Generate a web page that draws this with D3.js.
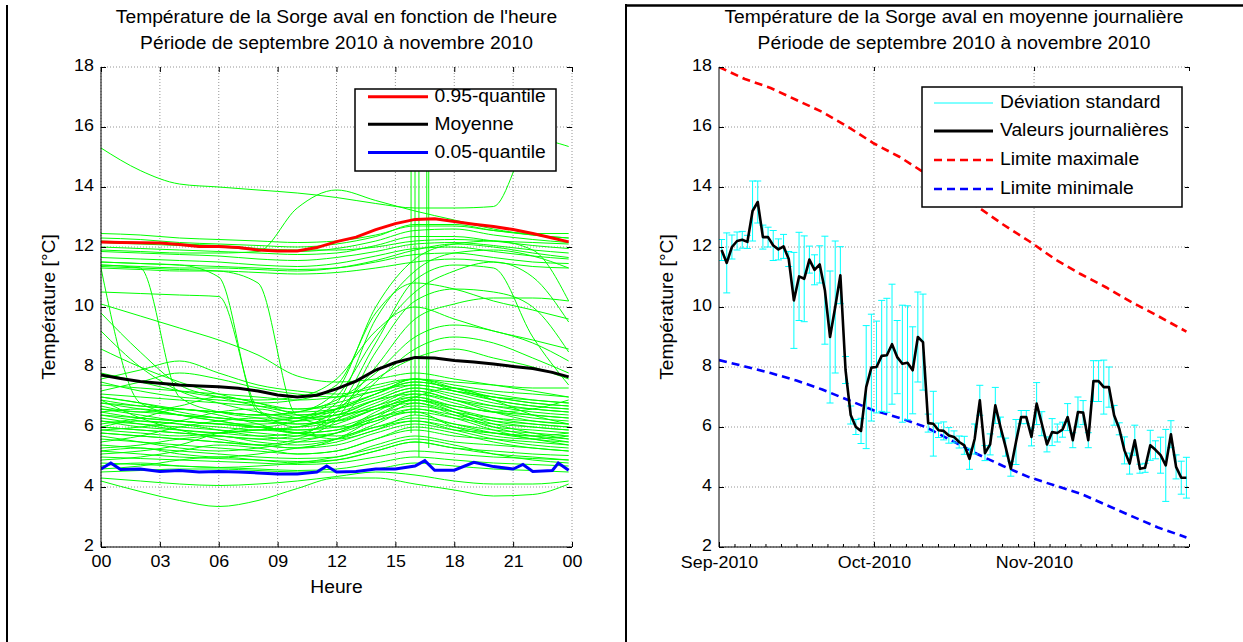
<!DOCTYPE html>
<html><head><meta charset="utf-8">
<script src="https://cdn.jsdelivr.net/npm/d3@7"></script>
<style>
body{margin:0;background:#fff}
svg{display:block}
text{font-family:"Liberation Sans",Arial,Helvetica,sans-serif;fill:#000}
</style>
</head><body>
<svg id="c" width="1243" height="642"></svg>
<script>
// ---------------- DATA ----------------
const hourTicks = [0,3,6,9,12,15,18,21,24];
const hourTickLabels = ["00","03","06","09","12","15","18","21","00"];
const tempTicks = [2,4,6,8,10,12,14,16,18];

const leftTitle = ["Température de la Sorge aval en fonction de l'heure","Période de septembre 2010 à novembre 2010"];
const rightTitle = ["Température de la Sorge aval en moyenne journalière","Période de septembre 2010 à novembre 2010"];
const yLabel = "Température [°C]";
const xLabelLeft = "Heure";
const leftLegendLabels = ["0.95-quantile","Moyenne","0.05-quantile"];
const rightLegendLabels = ["Déviation standard","Valeurs journalières","Limite maximale","Limite minimale"];

// hourly profiles of individual days (green)
const greenHours = [0,2,4,6,8,10,12,14,16,18,20,22,23.83];
const greenCurves = [
 [12.45,12.4,12.3,12.25,12.2,12.15,12.2,12.4,12.7,12.7,12.55,12.45,12.45],
 [12.3,12.25,12.15,12.1,12.05,12.0,12.1,12.35,12.75,12.75,12.55,12.4,12.3],
 [12.15,12.1,12.05,12.0,11.9,11.85,11.95,12.2,12.55,12.6,12.4,12.25,12.15],
 [12.0,11.95,11.9,11.85,11.8,11.75,11.8,12.05,12.35,12.35,12.2,12.05,11.95],
 [11.85,11.8,11.75,11.7,11.6,11.55,11.65,11.85,12.1,12.15,12.05,11.9,11.8],
 [11.65,11.6,11.55,11.5,11.4,11.35,11.45,11.7,11.95,12.0,11.85,11.7,11.6],
 [11.5,11.45,11.4,11.35,11.3,11.25,11.3,11.5,11.75,11.8,11.65,11.5,11.45],
 [11.3,11.25,11.2,11.2,11.15,11.1,11.15,11.3,11.5,11.6,11.5,11.35,11.3],
 [12.2,12.15,12.1,12.05,11.95,11.9,11.9,12.0,12.2,12.25,12.2,12.15,12.1],
 [11.4,11.35,11.3,11.3,11.25,11.2,11.3,11.55,11.9,12.1,12.0,11.8,11.65],
 [15.3,14.55,14.1,14.0,13.9,13.8,13.65,13.45,13.3,13.3,13.35,15.6,15.35],
 [11.9,11.85,11.8,11.8,11.85,13.3,13.9,13.55,13.2,12.9,12.6,12.4,12.3],
 [11.3,6.8,6.4,6.2,6.0,5.9,6.1,6.6,6.9,6.6,6.3,6.1,6.0],
 [11.4,11.3,7.0,6.5,6.3,6.1,6.3,6.8,7.2,6.9,6.6,6.4,6.3],
 [11.5,11.45,11.4,11.0,6.5,6.2,6.4,6.9,7.3,7.0,6.7,6.5,6.4],
 [11.35,11.3,11.25,11.2,10.8,6.4,6.6,7.1,7.6,7.2,6.9,6.7,6.6],
 [10.5,10.45,10.4,10.35,6.6,6.0,6.2,6.7,7.0,6.7,6.5,6.3,6.2],
 [7.0,6.8,6.6,6.5,6.4,6.5,7.2,10.0,11.6,12.1,12.2,11.9,10.2],
 [6.6,6.4,6.2,6.1,6.0,6.2,6.8,9.6,11.2,11.8,11.9,11.7,11.3],
 [6.8,6.6,6.4,6.3,6.2,6.3,7.0,9.0,10.5,11.2,11.5,11.0,9.5],
 [6.2,6.0,5.9,5.8,5.7,5.8,6.3,8.5,10.2,10.6,10.5,10.0,8.5],
 [7.5,7.2,7.0,6.9,6.8,6.9,7.4,9.8,10.8,10.6,10.2,9.9,9.6],
 [6.0,5.9,5.8,5.7,5.6,5.7,6.5,8.0,9.6,10.1,10.3,10.3,10.2],
 [6.4,6.2,6.1,6.0,5.9,6.0,6.6,8.8,10.9,11.4,11.3,9.0,7.4],
 [7.8,7.5,7.2,7.0,6.9,7.0,7.6,9.2,10.0,9.6,9.2,8.9,8.6],
 [6.9,6.7,6.6,6.5,6.4,6.5,6.9,7.8,9.0,9.4,9.2,8.8,8.2],
 [5.8,5.7,5.6,5.5,5.4,5.6,6.2,7.5,8.6,9.0,8.8,8.3,7.8],
 [6.5,6.3,6.2,6.1,6.1,6.2,6.6,7.6,8.3,8.6,8.3,8.0,7.6],
 [9.8,8.5,7.4,7.0,6.7,6.5,6.6,7.0,7.4,7.2,7.0,6.8,6.7],
 [9.2,8.0,7.2,6.8,6.5,6.3,6.4,6.9,7.3,7.1,6.8,6.6,6.5],
 [8.6,8.0,7.5,7.1,6.8,6.6,6.7,7.1,7.5,7.3,7.1,6.9,6.8],
 [10.1,9.7,9.3,8.9,8.4,7.7,7.5,7.6,7.8,7.6,7.4,7.2,7.0],
 [7.4,7.3,7.2,7.1,7.0,6.9,7.0,7.4,7.6,7.5,7.4,7.3,7.3],
 [7.1,7.0,6.9,6.8,6.7,6.6,6.8,7.2,7.4,7.2,7.0,6.9,6.8],
 [6.8,6.7,6.6,6.5,6.4,6.4,6.5,6.9,7.1,6.9,6.7,6.6,6.5],
 [6.6,6.5,6.4,6.3,6.2,6.1,6.2,6.6,6.9,6.7,6.5,6.4,6.3],
 [6.4,6.3,6.2,6.1,6.0,5.9,6.0,6.4,6.7,6.5,6.3,6.2,6.1],
 [6.2,6.1,6.0,5.9,5.8,5.7,5.8,6.2,6.5,6.3,6.1,6.0,5.9],
 [6.0,5.9,5.8,5.7,5.6,5.5,5.6,6.0,6.3,6.1,5.9,5.8,5.7],
 [5.8,5.7,5.6,5.5,5.4,5.3,5.4,5.8,6.1,5.9,5.8,5.7,5.6],
 [5.6,5.5,5.4,5.3,5.2,5.1,5.2,5.6,5.9,5.7,5.6,5.5,5.4],
 [5.4,5.3,5.2,5.1,5.0,4.95,5.0,5.4,5.7,5.5,5.4,5.3,5.2],
 [5.2,5.1,5.0,4.95,4.9,4.85,4.9,5.2,5.5,5.3,5.2,5.1,5.05],
 [5.0,4.95,4.9,4.85,4.8,4.75,4.8,5.0,5.2,5.1,5.0,4.95,4.9],
 [4.8,4.75,4.7,4.65,4.6,4.55,4.6,4.8,5.0,4.9,4.8,4.75,4.7],
 [6.9,6.3,5.9,5.6,5.4,5.3,5.6,6.3,6.9,6.5,6.0,5.7,5.5],
 [5.5,5.7,6.0,6.2,6.3,6.3,6.4,6.6,6.8,6.5,6.1,5.8,5.6],
 [6.1,6.3,6.6,6.4,6.1,5.8,5.9,6.4,7.0,7.3,6.9,6.4,6.1],
 [5.9,6.0,6.2,6.5,6.6,6.3,6.0,6.2,6.8,6.4,6.0,5.9,5.8],
 [5.3,5.4,5.6,5.7,5.5,5.4,5.6,6.1,6.6,6.3,5.9,5.6,5.5],
 [6.7,6.5,6.7,7.0,6.8,6.4,6.2,6.6,7.1,6.8,6.5,6.6,6.9],
 [4.9,5.0,5.2,5.4,5.3,5.1,5.2,5.6,6.0,5.8,5.5,5.3,5.2],
 [5.7,5.5,5.3,5.2,5.3,5.5,5.8,6.3,6.5,6.0,5.7,5.6,5.7],
 [6.3,6.1,5.9,5.8,5.9,6.0,6.3,6.7,7.2,6.9,6.5,6.2,6.1],
 [7.2,7.5,7.8,7.6,7.3,7.1,7.0,7.2,7.5,7.3,7.0,6.8,6.7],
 [7.6,7.9,8.2,7.8,7.4,7.2,7.1,7.3,7.6,7.4,7.2,7.1,7.0],
 [5.1,5.2,5.4,5.8,6.0,5.8,5.6,5.9,6.4,6.1,5.8,5.6,5.4],
 [4.6,4.7,4.9,5.0,4.9,4.8,4.9,5.2,5.5,5.3,5.1,5.0,4.9],
 [4.5,4.55,4.6,4.6,4.55,4.5,4.5,4.6,4.8,4.7,4.6,4.55,4.5],
 [5.9,5.8,5.7,5.8,5.9,5.8,5.7,6.0,6.2,6.0,5.8,5.7,5.8],
 [6.5,6.6,6.4,6.2,6.0,5.8,5.9,6.3,6.6,6.4,6.2,6.1,6.0],
 [5.2,5.3,5.1,5.0,5.1,5.3,5.5,5.9,6.2,5.9,5.6,5.4,5.3],
 [7.0,6.8,6.5,6.3,6.2,6.3,6.6,7.1,7.6,7.3,6.9,6.7,6.6],
 [4.7,4.8,4.7,4.65,4.7,4.8,5.0,5.3,5.6,5.4,5.1,4.9,4.8],
 [6.0,6.2,6.1,5.9,5.7,5.6,5.8,6.5,7.0,6.6,6.2,6.0,5.9],
 [4.2,3.85,3.55,3.35,3.55,3.95,4.3,4.3,4.1,3.9,3.7,3.75,4.1],
 [4.3,4.2,4.1,4.05,4.1,4.2,4.35,4.5,4.4,4.2,4.1,4.1,4.2]
];
// short spikes of individual days around 16h
const spikeHours = [15.8,16.0,16.2,16.6,16.7];
const spikeLow   = [5.8,6.4,5.0,6.8,5.3];
const spikeHigh  = [16.5,16.0,15.2,16.8,16.3];

// statistics over all days
const statHours = [0,1,2,3,4,5,6,7,8,9,10,11,12,13,14,15,16,17,18,19,20,21,22,23,23.83];
const q95Values = [12.17,12.15,12.14,12.13,12.08,12.02,12.02,11.98,11.9,11.87,11.87,11.98,12.18,12.33,12.58,12.78,12.92,12.94,12.85,12.76,12.68,12.58,12.45,12.3,12.17];
const meanValues = [7.73,7.62,7.52,7.46,7.4,7.37,7.34,7.29,7.2,7.07,7.0,7.06,7.27,7.53,7.9,8.15,8.32,8.3,8.22,8.17,8.1,8.02,7.95,7.82,7.67];
const q05Hours = [0,0.5,1,2,3,4,5,6,7,8,9,10,11,11.5,12,13,14,15,16,16.5,17,18,19,20,21,21.5,22,23,23.3,23.83];
const q05Values = [4.6,4.8,4.58,4.6,4.52,4.55,4.5,4.52,4.5,4.47,4.43,4.43,4.5,4.7,4.5,4.52,4.6,4.6,4.7,4.88,4.56,4.56,4.82,4.68,4.6,4.75,4.52,4.55,4.8,4.56];

// daily means from 1 Sep 2010 (one per day)
const dailyValues = [11.9,11.47,12.0,12.2,12.24,12.17,13.2,13.5,12.33,12.33,12.05,11.92,12.02,11.6,10.22,11.02,10.94,11.58,11.24,11.42,
 10.56,9.0,10.0,11.06,7.9,6.4,6.0,5.87,7.33,7.98,8.0,8.37,8.39,8.76,8.33,8.11,8.14,7.89,9.0,8.83,
 6.13,6.11,5.89,5.87,5.72,5.67,5.5,5.39,4.94,5.6,6.89,5.13,5.42,6.72,6.0,5.33,4.61,5.5,6.33,6.33,
 5.67,6.78,6.11,5.42,5.83,5.8,5.91,6.33,5.56,6.5,6.48,5.56,7.53,7.53,7.33,7.33,6.39,5.94,5.22,4.78,
 5.56,4.61,4.64,5.39,5.24,5.06,4.72,5.76,4.67,4.31,4.31];
const dailyStd = [0.35,1.0,0.4,0.3,0.28,0.22,1.0,0.7,0.4,0.33,0.5,0.35,0.4,0.25,1.6,1.47,1.43,0.45,0.5,0.62,
 1.8,2.2,2.2,0.95,0.45,0.3,0.25,0.42,2.05,1.78,1.53,1.85,1.9,2.0,1.22,1.95,1.9,1.45,1.5,1.6,
 0.3,1.08,0.24,0.3,0.26,0.2,0.2,0.3,0.35,0.5,0.5,0.25,0.35,0.6,0.33,0.3,0.25,0.75,0.22,0.22,
 0.3,0.7,0.4,0.25,0.45,0.3,0.25,0.45,0.25,0.5,0.4,0.25,0.68,0.68,0.9,0.67,0.33,0.2,0.45,0.35,
 0.5,0.15,0.15,0.5,0.3,0.6,1.2,0.45,0.4,0.55,0.68];

// limits (days after 1 Sep 2010)
const limitDays = [0,5,10,15,20,25,30,35,40,45,50,55,60,65,70,75,80,85,90.5];
const limitMax = [18.0,17.6,17.3,16.9,16.5,16.0,15.45,15.0,14.45,13.9,13.35,12.75,12.2,11.6,11.1,10.65,10.15,9.7,9.18];
const limitMin = [8.23,8.02,7.8,7.55,7.25,6.9,6.55,6.3,6.0,5.55,5.1,4.7,4.33,4.05,3.78,3.4,3.02,2.65,2.32];

const monthTickLabels = ["Sep-2010","Oct-2010","Nov-2010"];

// ---------------- LAYOUT ----------------
const L = {x0:101, x1:572, y0:67, y1:547};
const R = {x0:719, x1:1189, y0:67, y1:547};
const FONT = 17.5, TICKFONT = 17;
const GREEN = "#00ff00", RED = "#ff0000", BLUE = "#0000ff", CYAN = "#00ffff";
const day0 = Date.UTC(2010,8,1);
const dayDate = d => new Date(day0 + d*86400000);
const monthDates = [new Date(Date.UTC(2010,8,1)), new Date(Date.UTC(2010,9,1)), new Date(Date.UTC(2010,10,1)), new Date(Date.UTC(2010,11,1))];

const svg = d3.select("#c");

function stretch(sel, k){
  sel.each(function(){
    const w = this.getComputedTextLength();
    this.setAttribute("textLength", (w*k).toFixed(1));
    this.setAttribute("lengthAdjust","spacingAndGlyphs");
  });
}

// page frame (table borders)
svg.append("line").attr("x1",7).attr("x2",7).attr("y1",5).attr("y2",642).attr("stroke","#000").attr("stroke-width",2);
svg.append("line").attr("x1",626).attr("x2",626).attr("y1",4).attr("y2",642).attr("stroke","#000").attr("stroke-width",2);
svg.append("line").attr("x1",625).attr("x2",1243).attr("y1",5.5).attr("y2",5.5).attr("stroke","#000").attr("stroke-width",2.5);

const xL = d3.scaleLinear().domain([0,24]).range([L.x0,L.x1]);
const yL = d3.scaleLinear().domain([2,18]).range([L.y1,L.y0]);
const xR = d3.scaleUtc().domain([monthDates[0], monthDates[3]]).range([R.x0,R.x1]);
const yR = d3.scaleLinear().domain([2,18]).range([R.y1,R.y0]);

const defs = svg.append("defs");
defs.append("clipPath").attr("id","clipL").append("rect").attr("x",L.x0).attr("y",L.y0).attr("width",L.x1-L.x0).attr("height",L.y1-L.y0);
defs.append("clipPath").attr("id","clipR").append("rect").attr("x",R.x0).attr("y",R.y0).attr("width",R.x1-R.x0+1).attr("height",R.y1-R.y0);

function gridStyle(sel){ return sel.attr("stroke","#7a7a7a").attr("stroke-width",0.8).attr("stroke-dasharray","1,2").attr("fill","none"); }

function titles(lines, cx){
  const t = svg.append("g");
  t.selectAll("text").data(lines).join("text")
    .attr("x",cx).attr("y",(d,i)=>22.7 + i*25.8).attr("text-anchor","middle").attr("font-size",FONT).text(d=>d)
    .call(stretch,1.1);
}

function styleAxis(g, labels, dy){
  g.select(".domain").remove();
  g.selectAll(".tick line").attr("stroke","#000").attr("stroke-width",1);
  if(labels){
    const t = g.selectAll(".tick text").attr("font-size",TICKFONT).attr("fill","#000").attr("font-family",'"Liberation Sans",Arial,sans-serif');
    if(dy) t.attr("dy",dy);
    t.call(stretch,1.05);
  }
  else g.selectAll(".tick text").remove();
}

// ================= LEFT PANEL =================
titles(leftTitle, (L.x0+L.x1)/2);
gridStyle(svg.append("g").selectAll("line").data(hourTicks).join("line")
  .attr("x1",d=>xL(d)).attr("x2",d=>xL(d)).attr("y1",L.y0).attr("y2",L.y1));
gridStyle(svg.append("g").selectAll("line").data(tempTicks).join("line")
  .attr("x1",L.x0).attr("x2",L.x1).attr("y1",d=>yL(d)).attr("y2",d=>yL(d)));

const plotL = svg.append("g").attr("clip-path","url(#clipL)");
const lineL = d3.line().x(d=>xL(d[0])).y(d=>yL(d[1])).curve(d3.curveMonotoneX);
plotL.append("g").selectAll("path").data(greenCurves).join("path")
  .attr("d", c => lineL(c.map((v,i)=>[greenHours[i],v])))
  .attr("fill","none").attr("stroke",GREEN).attr("stroke-width",1);
plotL.append("g").selectAll("line").data(spikeHours).join("line")
  .attr("x1",d=>xL(d)).attr("x2",d=>xL(d)).attr("y1",(d,i)=>yL(spikeLow[i])).attr("y2",(d,i)=>yL(spikeHigh[i]))
  .attr("stroke",GREEN).attr("stroke-width",1);
const lineLin = d3.line().x(d=>xL(d[0])).y(d=>yL(d[1]));
plotL.append("path").attr("d", lineLin(q95Values.map((v,i)=>[statHours[i],v]))).attr("fill","none").attr("stroke",RED).attr("stroke-width",3);
plotL.append("path").attr("d", lineLin(meanValues.map((v,i)=>[statHours[i],v]))).attr("fill","none").attr("stroke","#000").attr("stroke-width",3);
plotL.append("path").attr("d", lineLin(q05Values.map((v,i)=>[q05Hours[i],v]))).attr("fill","none").attr("stroke",BLUE).attr("stroke-width",3);

svg.append("line").attr("x1",L.x0).attr("x2",L.x0).attr("y1",L.y0).attr("y2",L.y1).attr("stroke","#000");
svg.append("line").attr("x1",L.x0).attr("x2",L.x1).attr("y1",L.y1).attr("y2",L.y1).attr("stroke","#000");
svg.append("g").attr("transform",`translate(${L.x0},0)`).call(d3.axisLeft(yL).tickValues(tempTicks).tickSize(-5).tickSizeOuter(0).tickPadding(7)).call(styleAxis,true,"0.2em");
svg.append("g").attr("transform",`translate(${L.x1},0)`).call(d3.axisRight(yL).tickValues(tempTicks).tickSize(-5).tickSizeOuter(0)).call(styleAxis,false);
svg.append("g").attr("transform",`translate(0,${L.y1})`).call(d3.axisBottom(xL).tickValues(hourTicks).tickFormat((d,i)=>hourTickLabels[i]).tickSize(-5).tickSizeOuter(0).tickPadding(8)).call(styleAxis,true);
svg.append("g").attr("transform",`translate(0,${L.y0})`).call(d3.axisTop(xL).tickValues(hourTicks).tickSize(-5).tickSizeOuter(0)).call(styleAxis,false);

svg.append("text").attr("x",(L.x0+L.x1)/2).attr("y",593).attr("text-anchor","middle").attr("font-size",FONT).text(xLabelLeft).call(stretch,1.1);
svg.append("text").attr("transform",`translate(55,${(L.y0+L.y1)/2}) rotate(-90)`).attr("text-anchor","middle").attr("font-size",FONT).text(yLabel).call(stretch,1.1);

const legL = svg.append("g");
legL.append("rect").attr("x",355).attr("y",89).attr("width",201).attr("height",82).attr("fill","#fff").attr("stroke","#000").attr("stroke-width",1.5);
const legLColors = [RED,"#000",BLUE];
const legLY = [96.7,124.3,152.5];
legL.selectAll("line").data(leftLegendLabels).join("line")
  .attr("x1",368).attr("x2",428).attr("y1",(d,i)=>legLY[i]).attr("y2",(d,i)=>legLY[i]).attr("stroke",(d,i)=>legLColors[i]).attr("stroke-width",3);
legL.selectAll("text").data(leftLegendLabels).join("text")
  .attr("x",434.5).attr("y",(d,i)=>legLY[i]+5.5).attr("font-size",FONT).text(d=>d).call(stretch,1.1);

// ================= RIGHT PANEL =================
titles(rightTitle, (R.x0+R.x1)/2);
gridStyle(svg.append("g").selectAll("line").data(monthDates.slice(1,3)).join("line")
  .attr("x1",d=>xR(d)).attr("x2",d=>xR(d)).attr("y1",R.y0).attr("y2",R.y1));
gridStyle(svg.append("g").selectAll("line").data(tempTicks).join("line")
  .attr("x1",R.x0).attr("x2",R.x1).attr("y1",d=>yR(d)).attr("y2",d=>yR(d)));

const plotR = svg.append("g").attr("clip-path","url(#clipR)");
const lineR = d3.line().x(d=>xR(dayDate(d[0]))).y(d=>yR(d[1]));
plotR.append("path").attr("d", lineR(limitMax.map((v,i)=>[limitDays[i],v]))).attr("fill","none").attr("stroke",RED).attr("stroke-width",2.6).attr("stroke-dasharray","8,5");
plotR.append("path").attr("d", lineR(limitMin.map((v,i)=>[limitDays[i],v]))).attr("fill","none").attr("stroke",BLUE).attr("stroke-width",2.6).attr("stroke-dasharray","8,5");

const eb = plotR.append("g").attr("stroke",CYAN).attr("stroke-width",1);
dailyValues.forEach((v,i)=>{
  const x = xR(dayDate(i+0.5)), s = dailyStd[i];
  const yt = yR(v+s), yb = yR(v-s);
  eb.append("line").attr("x1",x).attr("x2",x).attr("y1",yt).attr("y2",yb);
  eb.append("line").attr("x1",x-3.5).attr("x2",x+3.5).attr("y1",yt).attr("y2",yt);
  eb.append("line").attr("x1",x-3.5).attr("x2",x+3.5).attr("y1",yb).attr("y2",yb);
});
plotR.append("path").attr("d", lineR(dailyValues.map((v,i)=>[i+0.5,v]))).attr("fill","none").attr("stroke","#000").attr("stroke-width",2.6).attr("stroke-linejoin","round");

svg.append("line").attr("x1",R.x0).attr("x2",R.x0).attr("y1",R.y0).attr("y2",R.y1).attr("stroke","#000");
svg.append("line").attr("x1",R.x0).attr("x2",R.x1).attr("y1",R.y1).attr("y2",R.y1).attr("stroke","#000");
svg.append("g").attr("transform",`translate(${R.x0},0)`).call(d3.axisLeft(yR).tickValues(tempTicks).tickSize(-5).tickSizeOuter(0).tickPadding(7)).call(styleAxis,true,"0.2em");
svg.append("g").attr("transform",`translate(${R.x1},0)`).call(d3.axisRight(yR).tickValues(tempTicks).tickSize(-4).tickSizeOuter(0)).call(styleAxis,false);
svg.append("g").attr("transform",`translate(0,${R.y1})`).call(d3.axisBottom(xR).tickValues(monthDates.slice(0,3)).tickFormat((d,i)=>monthTickLabels[i]).tickSize(-5).tickSizeOuter(0).tickPadding(9)).call(styleAxis,true);
const minorDates = [];
for(let m=0;m<3;m++){ const a=+monthDates[m], b=+monthDates[m+1]; for(let k=1;k<=10;k++) minorDates.push(new Date(a+(b-a)*k/10)); }
svg.append("g").attr("transform",`translate(0,${R.y1})`).call(d3.axisBottom(xR).tickValues(minorDates).tickSize(-3).tickSizeOuter(0)).call(styleAxis,false);
svg.append("g").attr("transform",`translate(0,${R.y0})`).call(d3.axisTop(xR).tickValues(monthDates.slice(1)).tickSize(-4).tickSizeOuter(0)).call(styleAxis,false);

svg.append("text").attr("transform",`translate(673,${(R.y0+R.y1)/2}) rotate(-90)`).attr("text-anchor","middle").attr("font-size",FONT).text(yLabel).call(stretch,1.1);

const legR = svg.append("g");
legR.append("rect").attr("x",922).attr("y",87).attr("width",260).attr("height",120).attr("fill","#fff").attr("stroke","#000").attr("stroke-width",1.5);
const legRY = [103,131,160,189];
const legRStyle = [{c:CYAN,w:1,d:null},{c:"#000",w:3,d:null},{c:RED,w:2.6,d:"8,5"},{c:BLUE,w:2.6,d:"8,5"}];
legR.selectAll("line").data(rightLegendLabels).join("line")
  .attr("x1",934).attr("x2",993).attr("y1",(d,i)=>legRY[i]).attr("y2",(d,i)=>legRY[i])
  .attr("stroke",(d,i)=>legRStyle[i].c).attr("stroke-width",(d,i)=>legRStyle[i].w).attr("stroke-dasharray",(d,i)=>legRStyle[i].d);
legR.selectAll("text").data(rightLegendLabels).join("text")
  .attr("x",1000).attr("y",(d,i)=>legRY[i]+4.5).attr("font-size",FONT).text(d=>d).call(stretch,1.1);
</script>
</body></html>
